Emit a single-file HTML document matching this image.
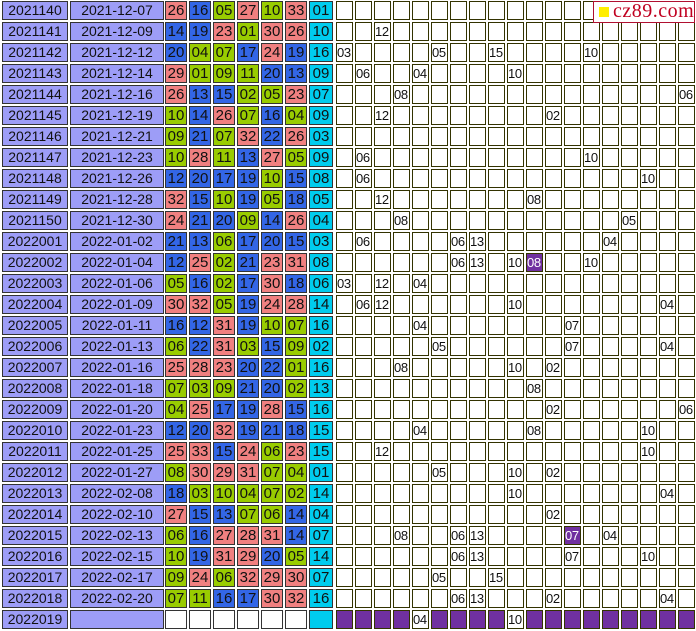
<!DOCTYPE html>
<html><head><meta charset="utf-8"><style>
*{margin:0;padding:0;box-sizing:border-box}
body{width:696px;height:631px;overflow:hidden;background:#fff;position:relative;font-family:"Liberation Sans",Arial,sans-serif}
.row{position:absolute;left:0;width:696px;height:21px}
.row i,.row b,.row s{position:absolute;top:1px;height:19px;border:1px solid #333;font-style:normal;font-weight:normal;text-decoration:none;text-align:center;line-height:17px;color:#111}
.p{left:2px;width:66px;background:#9d9df7;font-size:14px}
.d{left:70px;width:94px;background:#9d9df7;font-size:14px}
.row b{width:22px;font-size:15px}
.n1{left:165px}.n2{left:189px}.n3{left:213px}.n4{left:237px}.n5{left:261px}.n6{left:285px}
.row b.c{left:309px;width:24px;background:#00ccee}
.g{background:#99cc00}.bl{background:#3366e6}.r{background:#f08080}.w{background:#fff}
.row s{width:17px;background:#fff;font-size:13px;border-color:#333300;text-align:left;padding-left:0;letter-spacing:-0.3px}
.row s.pu{background:#7030a0;color:#fff}
#grid{position:absolute;left:335px;top:0}
#logo{position:absolute;left:593px;top:1px;width:102px;height:22px;background:#fff;border:1px solid #b01030;font-family:"Liberation Serif",serif;color:#c00020;font-size:20px;line-height:19px;padding-left:19px;letter-spacing:0.5px}
#logo:before{content:"";position:absolute;left:5px;top:5px;width:10px;height:10px;background:#ffee00}
</style></head><body>
<svg id="grid" width="361" height="631"><defs><pattern id="pt" width="19" height="21" patternUnits="userSpaceOnUse"><rect x="1.5" y="1.5" width="16" height="18" fill="#fff" stroke="#333300" stroke-width="1"/></pattern></defs><rect width="361" height="609" fill="url(#pt)"/></svg>

<div class="row" style="top:0"><i class="p">2021140</i><i class="d">2021-12-07</i><b class="n1 r">26</b><b class="n2 bl">16</b><b class="n3 g">05</b><b class="n4 r">27</b><b class="n5 g">10</b><b class="n6 r">33</b><b class="c">01</b></div>
<div class="row" style="top:21px"><i class="p">2021141</i><i class="d">2021-12-09</i><b class="n1 bl">14</b><b class="n2 bl">19</b><b class="n3 r">23</b><b class="n4 g">01</b><b class="n5 r">30</b><b class="n6 r">26</b><b class="c">10</b><s style="left:374px">12</s></div>
<div class="row" style="top:42px"><i class="p">2021142</i><i class="d">2021-12-12</i><b class="n1 bl">20</b><b class="n2 g">04</b><b class="n3 g">07</b><b class="n4 bl">17</b><b class="n5 r">24</b><b class="n6 bl">19</b><b class="c">16</b><s style="left:336px">03</s><s style="left:431px">05</s><s style="left:488px">15</s><s style="left:583px">10</s></div>
<div class="row" style="top:63px"><i class="p">2021143</i><i class="d">2021-12-14</i><b class="n1 r">29</b><b class="n2 g">01</b><b class="n3 g">09</b><b class="n4 g">11</b><b class="n5 bl">20</b><b class="n6 bl">13</b><b class="c">09</b><s style="left:355px">06</s><s style="left:412px">04</s><s style="left:507px">10</s></div>
<div class="row" style="top:84px"><i class="p">2021144</i><i class="d">2021-12-16</i><b class="n1 r">26</b><b class="n2 bl">13</b><b class="n3 bl">15</b><b class="n4 g">02</b><b class="n5 g">05</b><b class="n6 r">23</b><b class="c">07</b><s style="left:393px">08</s><s style="left:678px">06</s></div>
<div class="row" style="top:105px"><i class="p">2021145</i><i class="d">2021-12-19</i><b class="n1 g">10</b><b class="n2 bl">14</b><b class="n3 r">26</b><b class="n4 g">07</b><b class="n5 bl">16</b><b class="n6 g">04</b><b class="c">09</b><s style="left:374px">12</s><s style="left:545px">02</s></div>
<div class="row" style="top:126px"><i class="p">2021146</i><i class="d">2021-12-21</i><b class="n1 g">09</b><b class="n2 bl">21</b><b class="n3 g">07</b><b class="n4 r">32</b><b class="n5 bl">22</b><b class="n6 r">26</b><b class="c">03</b></div>
<div class="row" style="top:147px"><i class="p">2021147</i><i class="d">2021-12-23</i><b class="n1 g">10</b><b class="n2 r">28</b><b class="n3 g">11</b><b class="n4 bl">13</b><b class="n5 r">27</b><b class="n6 g">05</b><b class="c">09</b><s style="left:355px">06</s><s style="left:583px">10</s></div>
<div class="row" style="top:168px"><i class="p">2021148</i><i class="d">2021-12-26</i><b class="n1 bl">12</b><b class="n2 bl">20</b><b class="n3 bl">17</b><b class="n4 bl">19</b><b class="n5 g">10</b><b class="n6 bl">15</b><b class="c">08</b><s style="left:355px">06</s><s style="left:640px">10</s></div>
<div class="row" style="top:189px"><i class="p">2021149</i><i class="d">2021-12-28</i><b class="n1 r">32</b><b class="n2 bl">15</b><b class="n3 g">10</b><b class="n4 bl">19</b><b class="n5 g">05</b><b class="n6 bl">18</b><b class="c">05</b><s style="left:374px">12</s><s style="left:526px">08</s></div>
<div class="row" style="top:210px"><i class="p">2021150</i><i class="d">2021-12-30</i><b class="n1 r">24</b><b class="n2 bl">21</b><b class="n3 bl">20</b><b class="n4 g">09</b><b class="n5 bl">14</b><b class="n6 r">26</b><b class="c">04</b><s style="left:393px">08</s><s style="left:621px">05</s></div>
<div class="row" style="top:231px"><i class="p">2022001</i><i class="d">2022-01-02</i><b class="n1 bl">21</b><b class="n2 bl">13</b><b class="n3 g">06</b><b class="n4 bl">17</b><b class="n5 bl">20</b><b class="n6 bl">15</b><b class="c">03</b><s style="left:355px">06</s><s style="left:450px">06</s><s style="left:469px">13</s><s style="left:602px">04</s></div>
<div class="row" style="top:252px"><i class="p">2022002</i><i class="d">2022-01-04</i><b class="n1 bl">12</b><b class="n2 r">25</b><b class="n3 g">02</b><b class="n4 bl">21</b><b class="n5 r">23</b><b class="n6 r">31</b><b class="c">08</b><s style="left:450px">06</s><s style="left:469px">13</s><s style="left:507px">10</s><s class="pu" style="left:526px">08</s><s style="left:583px">10</s></div>
<div class="row" style="top:273px"><i class="p">2022003</i><i class="d">2022-01-06</i><b class="n1 g">05</b><b class="n2 bl">16</b><b class="n3 g">02</b><b class="n4 bl">17</b><b class="n5 r">30</b><b class="n6 bl">18</b><b class="c">06</b><s style="left:336px">03</s><s style="left:374px">12</s><s style="left:412px">04</s></div>
<div class="row" style="top:294px"><i class="p">2022004</i><i class="d">2022-01-09</i><b class="n1 r">30</b><b class="n2 r">32</b><b class="n3 g">05</b><b class="n4 bl">19</b><b class="n5 r">24</b><b class="n6 r">28</b><b class="c">14</b><s style="left:355px">06</s><s style="left:374px">12</s><s style="left:507px">10</s><s style="left:659px">04</s></div>
<div class="row" style="top:315px"><i class="p">2022005</i><i class="d">2022-01-11</i><b class="n1 bl">16</b><b class="n2 bl">12</b><b class="n3 r">31</b><b class="n4 bl">19</b><b class="n5 g">10</b><b class="n6 g">07</b><b class="c">16</b><s style="left:412px">04</s><s style="left:564px">07</s></div>
<div class="row" style="top:336px"><i class="p">2022006</i><i class="d">2022-01-13</i><b class="n1 g">06</b><b class="n2 bl">22</b><b class="n3 r">31</b><b class="n4 g">03</b><b class="n5 bl">15</b><b class="n6 g">09</b><b class="c">02</b><s style="left:431px">05</s><s style="left:564px">07</s><s style="left:659px">04</s></div>
<div class="row" style="top:357px"><i class="p">2022007</i><i class="d">2022-01-16</i><b class="n1 r">25</b><b class="n2 r">28</b><b class="n3 r">23</b><b class="n4 bl">20</b><b class="n5 bl">22</b><b class="n6 g">01</b><b class="c">16</b><s style="left:393px">08</s><s style="left:507px">10</s><s style="left:545px">02</s></div>
<div class="row" style="top:378px"><i class="p">2022008</i><i class="d">2022-01-18</i><b class="n1 g">07</b><b class="n2 g">03</b><b class="n3 g">09</b><b class="n4 bl">21</b><b class="n5 bl">20</b><b class="n6 g">02</b><b class="c">13</b><s style="left:526px">08</s></div>
<div class="row" style="top:399px"><i class="p">2022009</i><i class="d">2022-01-20</i><b class="n1 g">04</b><b class="n2 r">25</b><b class="n3 bl">17</b><b class="n4 bl">19</b><b class="n5 r">28</b><b class="n6 bl">15</b><b class="c">16</b><s style="left:545px">02</s><s style="left:678px">06</s></div>
<div class="row" style="top:420px"><i class="p">2022010</i><i class="d">2022-01-23</i><b class="n1 bl">12</b><b class="n2 bl">20</b><b class="n3 r">32</b><b class="n4 bl">19</b><b class="n5 bl">21</b><b class="n6 bl">18</b><b class="c">15</b><s style="left:412px">04</s><s style="left:526px">08</s><s style="left:640px">10</s></div>
<div class="row" style="top:441px"><i class="p">2022011</i><i class="d">2022-01-25</i><b class="n1 r">25</b><b class="n2 r">33</b><b class="n3 bl">15</b><b class="n4 r">24</b><b class="n5 g">06</b><b class="n6 r">23</b><b class="c">15</b><s style="left:374px">12</s><s style="left:640px">10</s></div>
<div class="row" style="top:462px"><i class="p">2022012</i><i class="d">2022-01-27</i><b class="n1 g">08</b><b class="n2 r">30</b><b class="n3 r">29</b><b class="n4 r">31</b><b class="n5 g">07</b><b class="n6 g">04</b><b class="c">01</b><s style="left:431px">05</s><s style="left:507px">10</s><s style="left:545px">02</s></div>
<div class="row" style="top:483px"><i class="p">2022013</i><i class="d">2022-02-08</i><b class="n1 bl">18</b><b class="n2 g">03</b><b class="n3 g">10</b><b class="n4 g">04</b><b class="n5 g">07</b><b class="n6 g">02</b><b class="c">14</b><s style="left:507px">10</s><s style="left:659px">04</s></div>
<div class="row" style="top:504px"><i class="p">2022014</i><i class="d">2022-02-10</i><b class="n1 r">27</b><b class="n2 bl">15</b><b class="n3 bl">13</b><b class="n4 g">07</b><b class="n5 g">06</b><b class="n6 bl">14</b><b class="c">04</b><s style="left:545px">02</s></div>
<div class="row" style="top:525px"><i class="p">2022015</i><i class="d">2022-02-13</i><b class="n1 g">06</b><b class="n2 bl">16</b><b class="n3 r">27</b><b class="n4 r">28</b><b class="n5 r">31</b><b class="n6 bl">14</b><b class="c">07</b><s style="left:393px">08</s><s style="left:450px">06</s><s style="left:469px">13</s><s class="pu" style="left:564px">07</s><s style="left:602px">04</s></div>
<div class="row" style="top:546px"><i class="p">2022016</i><i class="d">2022-02-15</i><b class="n1 g">10</b><b class="n2 bl">19</b><b class="n3 r">31</b><b class="n4 r">29</b><b class="n5 bl">20</b><b class="n6 g">05</b><b class="c">14</b><s style="left:450px">06</s><s style="left:469px">13</s><s style="left:564px">07</s><s style="left:640px">10</s></div>
<div class="row" style="top:567px"><i class="p">2022017</i><i class="d">2022-02-17</i><b class="n1 g">09</b><b class="n2 r">24</b><b class="n3 g">06</b><b class="n4 r">32</b><b class="n5 r">29</b><b class="n6 r">30</b><b class="c">07</b><s style="left:431px">05</s><s style="left:488px">15</s></div>
<div class="row" style="top:588px"><i class="p">2022018</i><i class="d">2022-02-20</i><b class="n1 g">07</b><b class="n2 g">11</b><b class="n3 bl">16</b><b class="n4 bl">17</b><b class="n5 r">30</b><b class="n6 r">32</b><b class="c">16</b><s style="left:450px">06</s><s style="left:469px">13</s><s style="left:545px">02</s><s style="left:659px">04</s></div>
<div class="row" style="top:609px"><i class="p">2022019</i><i class="d"></i><b class="n1 w"></b><b class="n2 w"></b><b class="n3 w"></b><b class="n4 w"></b><b class="n5 w"></b><b class="n6 w"></b><b class="c"></b>
<s class="pu" style="left:336px"></s><s class="pu" style="left:355px"></s><s class="pu" style="left:374px"></s><s class="pu" style="left:393px"></s><s style="left:412px">04</s><s class="pu" style="left:431px"></s><s class="pu" style="left:450px"></s><s class="pu" style="left:469px"></s><s class="pu" style="left:488px"></s><s style="left:507px">10</s><s class="pu" style="left:526px"></s><s class="pu" style="left:545px"></s><s class="pu" style="left:564px"></s><s class="pu" style="left:583px"></s><s class="pu" style="left:602px"></s><s class="pu" style="left:621px"></s><s class="pu" style="left:640px"></s><s class="pu" style="left:659px"></s><s class="pu" style="left:678px"></s></div>

<div id="logo">cz89.com</div>
</body></html>
